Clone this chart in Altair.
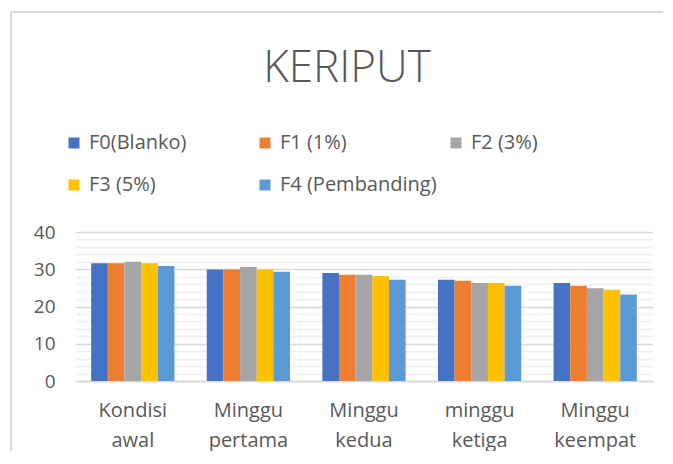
import altair as alt
import pandas as pd

categories = ["Kondisi awal", "Minggu pertama", "Minggu kedua", "minggu ketiga", "Minggu keempat"]
series = ["F0(Blanko)", "F1 (1%)", "F2 (3%)", "F3 (5%)", "F4 (Pembanding)"]
colors = ["#4472C4", "#ED7D31", "#A5A5A5", "#FFC000", "#5B9BD5"]
values = {
    "F0(Blanko)":      [31.6, 29.9, 29.0, 27.2, 26.3],
    "F1 (1%)":         [31.6, 29.9, 28.5, 26.9, 25.6],
    "F2 (3%)":         [32.0, 30.6, 28.5, 26.3, 24.9],
    "F3 (5%)":         [31.6, 29.9, 28.2, 26.3, 24.5],
    "F4 (Pembanding)": [30.9, 29.3, 27.2, 25.6, 23.2],
}
y_ticks = list(range(0, 41, 2))

rows = []
for s in series:
    for c, v in zip(categories, values[s]):
        rows.append({"cat": c, "series": s, "value": v})
df = pd.DataFrame(rows)

FONT = "Open Sans"
TXT = "#595959"

bars = alt.Chart(df).mark_bar().encode(
    x=alt.X("cat:N", sort=categories, title=None,
            scale=alt.Scale(paddingInner=0.28, paddingOuter=0.14),
            axis=alt.Axis(labelAngle=0, labelExpr="split(datum.label, ' ')",
                          labelFontSize=20, labelColor=TXT, labelFont=FONT,
                          labelLineHeight=30, labelPadding=19, ticks=False,
                          domainColor="#d9d9d9", domainWidth=1.5, grid=False)),
    xOffset=alt.XOffset("series:N", sort=series, scale=alt.Scale(paddingInner=0, paddingOuter=0)),
    y=alt.Y("value:Q", title=None, scale=alt.Scale(domain=[0, 40], nice=False),
            axis=alt.Axis(values=y_ticks,
                          labelExpr="datum.value % 10 == 0 ? datum.label : ''",
                          labelFontSize=19, labelColor=TXT, labelFont=FONT,
                          labelPadding=20, ticks=False, domain=False,
                          gridColor={"condition": {"test": "datum.value % 10 == 0", "value": "#d9d9d9"}, "value": "#f0f0f0"},
                          gridWidth=1.5)),
    color=alt.Color("series:N", sort=series, scale=alt.Scale(domain=series, range=colors),
                    legend=alt.Legend(title=None, orient="none", legendX=-11, legendY=-99,
                                      direction="horizontal",
                                      columns=3, gridAlign="all", columnPadding=9, rowPadding=22,
                                      symbolType="square", symbolSize=121, symbolStrokeWidth=0,
                                      labelFontSize=20, labelColor=TXT, labelFont=FONT,
                                      labelOffset=5, padding=0)),
)

frame_left = alt.Chart(alt.Data(values=[{}])).mark_rule(color="#d9d9d9", strokeWidth=2).encode(
    x=alt.value(-64), y=alt.value(-220), y2=alt.value(300))
frame_top = alt.Chart(alt.Data(values=[{}])).mark_rule(color="#d9d9d9", strokeWidth=2).encode(
    x=alt.value(-64), x2=alt.value(700), y=alt.value(-220))

chart = alt.layer(bars, frame_left, frame_top).properties(
    width=578, height=149,
    padding={"left": 67, "top": 224, "right": 10, "bottom": 70},
    autosize=alt.AutoSizeParams(type="none"),
    title=alt.TitleParams("KERIPUT", fontSize=44, font=FONT, fontWeight=300, color=TXT,
                          anchor="middle", offset=-80, dx=-17),
).configure_view(stroke=None)

chart.save("out.html", embed_options={"renderer": "svg", "actions": False})
